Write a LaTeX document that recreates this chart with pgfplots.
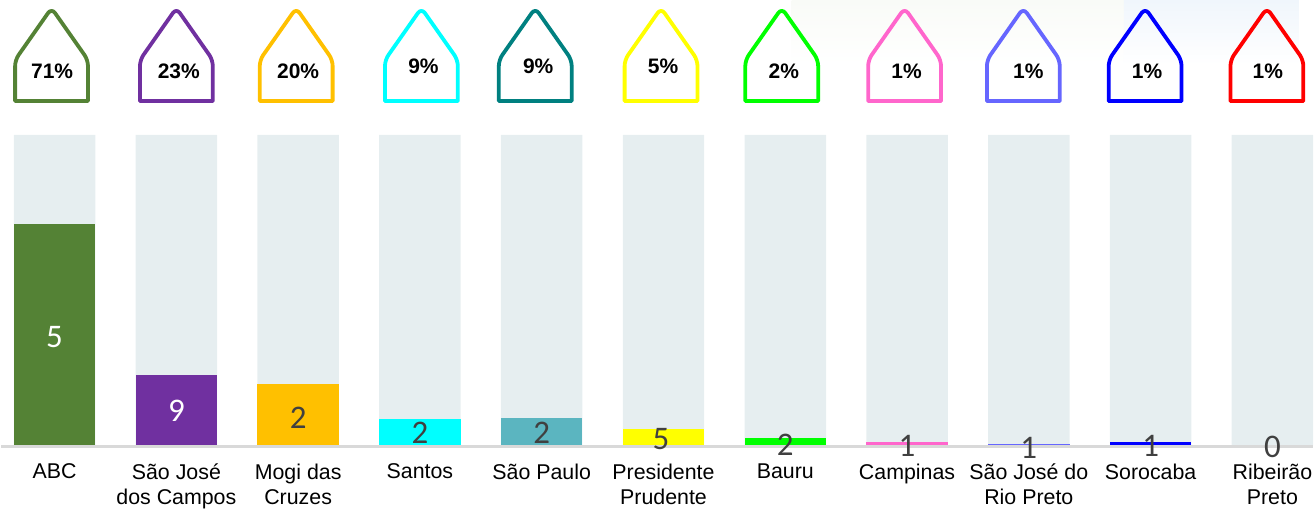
\documentclass[border=0pt]{standalone}
\usepackage{pgfplots}
\usepackage{pgfplotstable}
\pgfplotsset{compat=1.18}
\usepackage{fontspec}
\setmainfont{Liberation Sans}
\newfontfamily\valfont{Carlito}
\definecolor{cA}{HTML}{548235}
\definecolor{cB}{HTML}{7030A0}
\definecolor{cC}{HTML}{FFC000}
\definecolor{cD}{HTML}{00FFFF}
\definecolor{cE}{HTML}{008080}
\definecolor{cEb}{HTML}{5BB5C0}
\definecolor{cF}{HTML}{FFFF00}
\definecolor{cG}{HTML}{00FF00}
\definecolor{cH}{HTML}{FF66CC}
\definecolor{cI}{HTML}{6666FF}
\definecolor{cJ}{HTML}{0000FF}
\definecolor{cK}{HTML}{FF0000}
\definecolor{track}{HTML}{E6EEF0}
\definecolor{base}{HTML}{D9D9D9}
\definecolor{valdark}{HTML}{404040}
\definecolor{mapgreen}{HTML}{F9FBF7}
\definecolor{mapblue}{HTML}{F0F6FC}
\pgfdeclareplotmark{house}{%
  \draw[line join=round]
    (-36.5bp,1.8bp) [rounded corners=6bp] -- (-36.5bp,43bp) -- (0bp,95bp) -- (36.5bp,43bp) [sharp corners] -- (36.5bp,1.8bp) -- cycle;
}
% label positions: value labels (dark and white), percentage labels
\pgfplotstableread{
x y v
0 35.0 5
1 11.0 9
}\whitevals
\pgfplotstableread{
x y v
2 9.0 2
3 3.9 2
4 3.9 2
4.98 1.9 5
6 0.3 2
7 -0.3 1
8 -0.8 1
9 -0.3 1
10 -0.5 0
}\darkvals
\pgfplotstableread{
x y v
-0.02 120.6 71
1.02 120.6 23
2 120.6 20
3.029 122.2 9
3.971 122.2 9
4.996 122.2 5
5.988 120.6 2
6.996 120.6 1
7.996 120.6 1
8.971 120.6 1
9.963 120.6 1
}\pcts
\newcommand{\houseplot}[3]{\addplot[only marks,mark=house,mark options={draw=#1,fill=none,line width=3.8bp}] coordinates {(#2,#3)};}
\newcommand{\barplot}[3]{\addplot[ybar,bar width=0.669,bar shift=0pt,fill=#1,draw=none] coordinates {(#2,#3)};}
\begin{document}
\begin{tikzpicture}
\begin{axis}[
  scale only axis,
  width=1314bp,height=507bp,
  xmin=-0.4385,xmax=10.332,
  ymin=-19.61,ymax=143.41,
  axis line style={draw=none},
  major tick length=0pt,
  ytick=\empty,
  xtick={0,1,2,3,4,5,6,7,8,9,10},
  xticklabels={ABC\\{},São José\\dos Campos,Mogi das\\Cruzes,Santos\\{},São Paulo\\{},Presidente\\Prudente,Bauru\\{},Campinas\\{},São José do\\Rio Preto,Sorocaba\\{},Ribeirão\\Preto},
  x tick label style={font=\fontsize{21.4bp}{25bp}\selectfont,align=center,anchor=north,yshift=42.4bp,inner sep=0pt,execute at begin node={\rule{0pt}{17bp}}},
  clip=false,
  every node near coord/.append style={anchor=center,inner sep=0pt},
]
% pale map in the background
\path[top color=mapgreen,bottom color=white] (axis cs:6.053,143.41) rectangle (axis cs:8.78,122.5);
\path[top color=mapblue,bottom color=white] (axis cs:8.78,143.41) rectangle (axis cs:10.217,122.5);
% tracks
\addplot[ybar,bar width=0.669,bar shift=0pt,fill=track,draw=none] coordinates
 {(0,100)(1,100)(2,100)(3,100)(4,100)(5,100)(6,100)(7,100)(8,100)(9,100)(10,100)};
% baseline
\addplot[base,line width=2.4bp] coordinates {(-0.4385,-0.4)(10.332,-0.4)};
% bars
\barplot{cA}{0}{71.4}
\barplot{cB}{1}{22.8}
\barplot{cC}{2}{19.6}
\barplot{cD}{3}{8.4}
\barplot{cEb}{4}{8.8}
\barplot{cF}{5}{5.1}
\barplot{cG}{6}{2.2}
\barplot{cH}{7}{1.1}
\barplot{cI}{8}{0.5}
\barplot{cJ}{9}{1.1}
% houses
\houseplot{cA}{-0.025}{110.3}
\houseplot{cB}{1.0}{110.3}
\houseplot{cC}{1.984}{110.3}
\houseplot{cD}{3.012}{110.3}
\houseplot{cE}{3.947}{110.3}
\houseplot{cF}{4.98}{110.3}
\houseplot{cG}{5.971}{110.3}
\houseplot{cH}{6.98}{110.3}
\houseplot{cI}{7.955}{110.3}
\houseplot{cJ}{8.955}{110.3}
\houseplot{cK}{9.955}{110.3}
% labels
\addplot[only marks,mark=none,point meta=explicit symbolic,
  nodes near coords={\pgfplotspointmeta},
  nodes near coords style={text=white,font=\valfont\fontsize{33bp}{33bp}\selectfont}]
  table[x=x,y=y,meta=v] {\whitevals};
\addplot[only marks,mark=none,point meta=explicit symbolic,
  nodes near coords={\pgfplotspointmeta},
  nodes near coords style={text=valdark,font=\valfont\fontsize{33bp}{33bp}\selectfont}]
  table[x=x,y=y,meta=v] {\darkvals};
\addplot[only marks,mark=none,point meta=explicit symbolic,
  nodes near coords={\pgfplotspointmeta\%},
  nodes near coords style={text=black,font=\bfseries\fontsize{21bp}{21bp}\selectfont}]
  table[x=x,y=y,meta=v] {\pcts};
\end{axis}
\end{tikzpicture}
\end{document}
